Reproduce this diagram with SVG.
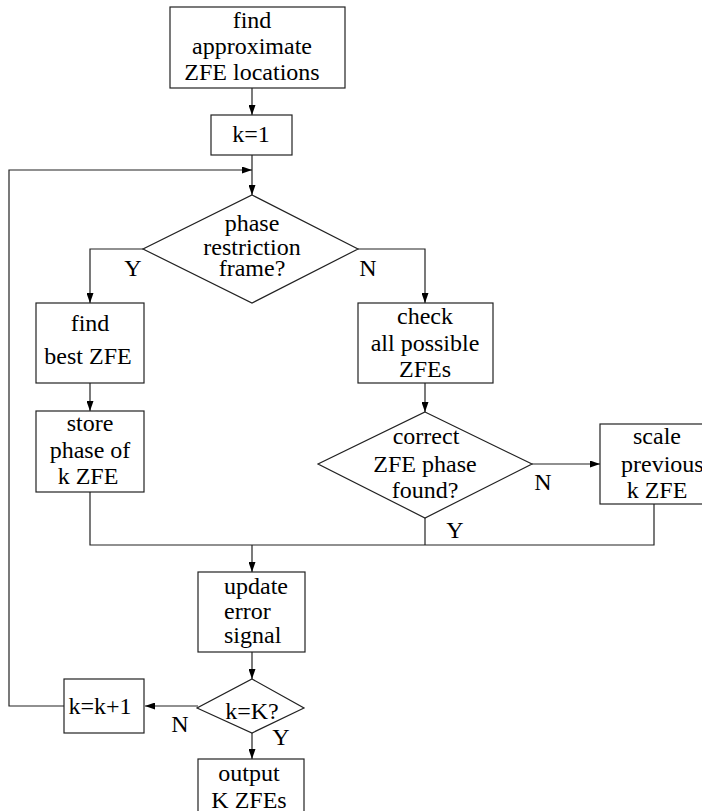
<svg xmlns="http://www.w3.org/2000/svg" width="702" height="811" viewBox="0 0 702 811">
  <defs>
    <marker id="arrow" viewBox="0 0 10 7" refX="10" refY="3.5" markerWidth="10" markerHeight="7" markerUnits="userSpaceOnUse" orient="auto">
      <path d="M0,0 L10,3.5 L0,7 z" fill="#000"/>
    </marker>
  </defs>
  <style>
    .box { fill: #fff; stroke: #222; stroke-width: 1.2; }
    .wire { fill: none; stroke: #222; stroke-width: 1.2; }
    .arr { marker-end: url(#arrow); }
    text { font-family: "Liberation Serif", "Times New Roman", serif; font-size: 24px; fill: #000; }
    .c { text-anchor: middle; }
  </style>
  <rect width="702" height="811" fill="#fff"/>

  <!-- connectors -->
  <g id="connectors">
    <line class="wire arr" x1="252" y1="88" x2="252" y2="115"/>
    <line class="wire arr" x1="252" y1="155" x2="252" y2="195"/>
    <polyline class="wire arr" points="64,706 9,706 9,170 252,170"/>
    <polyline class="wire arr" points="143,249 90,249 90,303"/>
    <polyline class="wire arr" points="358,249 425,249 425,303"/>
    <line class="wire arr" x1="90" y1="383" x2="90" y2="411"/>
    <line class="wire arr" x1="425" y1="383" x2="425" y2="412"/>
    <line class="wire arr" x1="532" y1="464" x2="600" y2="464"/>
    <polyline class="wire" points="90,492 90,545 654,545 654,504"/>
    <line class="wire" x1="425" y1="518" x2="425" y2="545"/>
    <line class="wire arr" x1="252" y1="545" x2="252" y2="572"/>
    <line class="wire arr" x1="252" y1="652" x2="252" y2="679"/>
    <line class="wire arr" x1="198" y1="706" x2="145" y2="706"/>
    <line class="wire arr" x1="252" y1="733" x2="252" y2="759"/>
  </g>

  <!-- edge labels -->
  <g id="labels">
    <text class="c" x="133" y="276">Y</text>
    <text class="c" x="368" y="276">N</text>
    <text class="c" x="543" y="490">N</text>
    <text class="c" x="455" y="538">Y</text>
    <text class="c" x="180" y="732">N</text>
    <text class="c" x="281" y="745">Y</text>
  </g>

  <g id="find-approx">
    <rect class="box" x="170" y="7" width="175" height="81"/>
    <text class="c" x="252" y="28">find</text>
    <text class="c" x="252" y="54">approximate</text>
    <text class="c" x="252" y="80">ZFE locations</text>
  </g>

  <g id="k-init">
    <rect class="box" x="211" y="115" width="81" height="40"/>
    <text class="c" x="251" y="142">k=1</text>
  </g>

  <g id="phase-restriction">
    <polygon class="box" points="252,195 358,249 252,303 143,249"/>
    <text class="c" x="252" y="231">phase</text>
    <text class="c" x="252" y="255">restriction</text>
    <text class="c" x="252" y="276">frame?</text>
  </g>

  <g id="find-best">
    <rect class="box" x="36" y="303" width="108" height="80"/>
    <text class="c" x="90" y="331">find</text>
    <text class="c" x="88" y="364">best ZFE</text>
  </g>

  <g id="store-phase">
    <rect class="box" x="36" y="411" width="108" height="81"/>
    <text class="c" x="90" y="431">store</text>
    <text class="c" x="90" y="458">phase of</text>
    <text class="c" x="88" y="484">k ZFE</text>
  </g>

  <g id="check-all">
    <rect class="box" x="358" y="303" width="135" height="80"/>
    <text class="c" x="425" y="324">check</text>
    <text class="c" x="425" y="351">all possible</text>
    <text class="c" x="425" y="377">ZFEs</text>
  </g>

  <g id="correct-phase">
    <polygon class="box" points="425,412 532,464 425,518 318,464"/>
    <text class="c" x="426" y="444">correct</text>
    <text class="c" x="425" y="472">ZFE phase</text>
    <text class="c" x="425" y="498">found?</text>
  </g>

  <g id="scale-previous">
    <rect class="box" x="600" y="424" width="110" height="80"/>
    <text class="c" x="657" y="444">scale</text>
    <text x="621" y="472">previous</text>
    <text class="c" x="657" y="498">k ZFE</text>
  </g>

  <g id="update-error">
    <rect class="box" x="198" y="572" width="107" height="80"/>
    <text x="224" y="594">update</text>
    <text x="224" y="619">error</text>
    <text x="224" y="643">signal</text>
  </g>

  <g id="k-check">
    <polygon class="box" points="252,679 304,708 252,733 197,708"/>
    <text class="c" x="252" y="719">k=K?</text>
  </g>

  <g id="k-increment">
    <rect class="box" x="64" y="679" width="80" height="54"/>
    <text class="c" x="100" y="714">k=k+1</text>
  </g>

  <g id="output">
    <rect class="box" x="198" y="759" width="106" height="60"/>
    <text class="c" x="249" y="781">output</text>
    <text class="c" x="249" y="808">K ZFEs</text>
  </g>
</svg>
